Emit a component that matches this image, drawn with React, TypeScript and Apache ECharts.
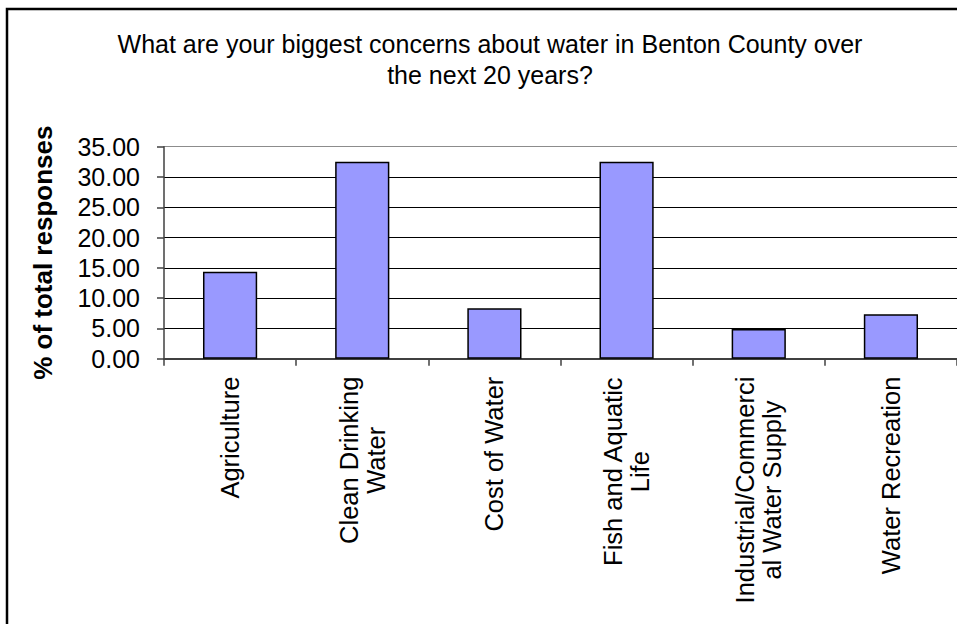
import React, { useEffect, useRef } from "react";
import * as echarts from "echarts";

const categories: string[] = [
  "Agriculture",
  "Clean Drinking\nWater",
  "Cost of Water",
  "Fish and Aquatic\nLife",
  "Industrial/Commerci\nal Water Supply",
  "Water Recreation",
];
const values: number[] = [14.36, 32.5, 8.32, 32.5, 4.9, 7.33];
const titleText = "What are your biggest concerns about water in Benton County over\nthe next 20 years?";
const yAxisName = "% of total responses";
const yMin = 0;
const yMax = 35;
const yStep = 5;

const FONT = "'Liberation Sans', Arial, sans-serif";

export default function App() {
  const ref = useRef<HTMLDivElement>(null);
  useEffect(() => {
    if (!ref.current) return;
    const chart = echarts.init(ref.current, null, { renderer: "svg" });
    chart.setOption({
      animation: false,
      backgroundColor: "#ffffff",
      textStyle: { fontFamily: FONT },
      title: {
        text: titleText,
        left: 490,
        top: 28,
        padding: 0,
        textAlign: "center",
        textStyle: {
          fontFamily: FONT,
          fontSize: 25,
          fontWeight: "normal",
          color: "#000",
          lineHeight: 31,
        },
      },
      graphic: [
        {
          type: "rect",
          shape: { x: 7, y: 9, width: 1100, height: 800 },
          style: { fill: "none", stroke: "#000", lineWidth: 2.5 },
          silent: true,
          z: 100,
        },
      ],
      grid: { left: 164, top: 146.7, width: 794, height: 212, containLabel: false },
      xAxis: {
        type: "category",
        data: categories,
        axisLine: { show: true, lineStyle: { color: "#404040", width: 2 } },
        axisTick: { show: true, length: 7, lineStyle: { color: "#404040", width: 1.5 } },
        splitLine: { show: false },
        axisLabel: {
          rotate: 90,
          margin: 18,
          interval: 0,
          color: "#000",
          fontFamily: FONT,
          fontSize: 25.5,
          lineHeight: 27,
          formatter: (v: string) =>
            v
              .split("\n")
              .map((s) => "{c|" + s + "}")
              .join("\n"),
          rich: {
            c: { align: "center", fontFamily: FONT, fontSize: 25.5, lineHeight: 27, color: "#000" },
          },
        },
      },
      yAxis: {
        type: "value",
        min: yMin,
        max: yMax,
        interval: yStep,
        name: yAxisName,
        nameLocation: "middle",
        nameGap: 108,
        nameRotate: 90,
        nameTextStyle: {
          fontFamily: FONT,
          fontSize: 26,
          fontWeight: "bold",
          color: "#000",
        },
        axisLine: { show: true, lineStyle: { color: "#404040", width: 1.5 } },
        axisTick: { show: true, length: 7, lineStyle: { color: "#404040", width: 1.5 } },
        axisLabel: {
          margin: 24,
          color: "#000",
          fontFamily: FONT,
          fontSize: 25,
          formatter: (v: number) => v.toFixed(2),
        },
        splitLine: {
          show: true,
          lineStyle: {
            color: ["#000", "#000", "#000", "#000", "#000", "#000", "#000", "#8c8c8c"],
            width: 1,
          },
        },
      },
      series: [
        {
          type: "bar",
          data: values,
          barWidth: "41%",
          itemStyle: { color: "#9999FF", borderColor: "#000", borderWidth: 1.5 },
        },
      ],
    });
    return () => chart.dispose();
  }, []);
  return (
    <div
      ref={ref}
      style={{ position: "fixed", left: 0, top: 0, width: 957, height: 624 }}
    />
  );
}
